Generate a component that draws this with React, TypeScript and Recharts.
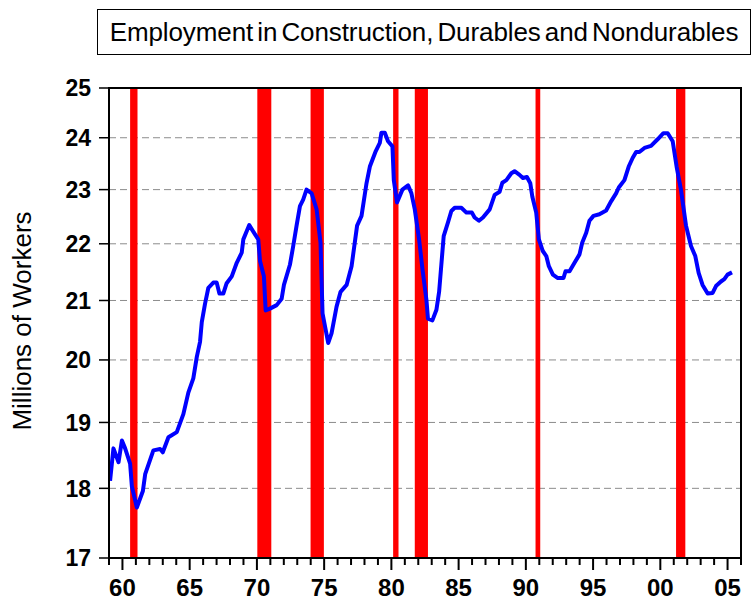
import { LineChart, Line, XAxis, YAxis, CartesianGrid, ReferenceArea } from "recharts";

const FONT = '"Liberation Sans", Arial, Helvetica, sans-serif';

// roughly quarterly
const years = [
  1959.08, 1959.33, 1959.71, 1959.96, 1960.2, 1960.57, 1960.7, 1961.07, 1961.52, 1961.69,
  1962.3, 1962.8, 1963.0, 1963.42, 1964.04, 1964.53, 1964.9, 1965.27, 1965.53, 1965.77,
  1965.9, 1966.14, 1966.39, 1966.76, 1967.01, 1967.21, 1967.5, 1967.75, 1968.13, 1968.5,
  1968.87, 1968.99, 1969.43, 1969.86, 1970.1, 1970.23, 1970.52, 1970.65, 1970.97, 1971.47,
  1971.84, 1972.01, 1972.46, 1972.7, 1972.95, 1973.2, 1973.44, 1973.69, 1974.07, 1974.44,
  1974.73, 1974.88, 1975.3, 1975.55, 1975.92, 1976.22, 1976.67, 1977.04, 1977.45, 1977.78,
  1978.15, 1978.4, 1978.84, 1979.14, 1979.26, 1979.51, 1979.75, 1980.08, 1980.18, 1980.42,
  1980.82, 1981.24, 1981.49, 1981.74, 1982.06, 1982.31, 1982.61, 1982.72, 1983.05, 1983.35,
  1983.55, 1983.89, 1984.21, 1984.46, 1984.71, 1985.2, 1985.58, 1985.99, 1986.19, 1986.51,
  1986.81, 1987.31, 1987.68, 1988.05, 1988.25, 1988.55, 1988.92, 1989.16, 1989.53, 1989.78,
  1990.08, 1990.33, 1990.48, 1990.77, 1990.97, 1991.26, 1991.52, 1991.71, 1992.01, 1992.38,
  1992.8, 1992.95, 1993.25, 1993.62, 1993.99, 1994.19, 1994.49, 1994.73, 1995.03, 1995.47,
  1995.97, 1996.34, 1996.71, 1996.91, 1997.33, 1997.65, 1997.95, 1998.2, 1998.44, 1998.82,
  1999.31, 1999.8, 2000.23, 2000.55, 2000.92, 2001.21, 2001.54, 2001.91, 2002.28, 2002.6,
  2002.85, 2003.14, 2003.52, 2003.89, 2004.14, 2004.51, 2004.76, 2005.0, 2005.33,
];

const workers = [
  18.11, 18.6, 18.39, 18.72, 18.6, 18.37, 18.03, 17.72, 17.96, 18.21,
  18.57, 18.59, 18.54, 18.77, 18.85, 19.13, 19.47, 19.7, 20.05, 20.3,
  20.63, 20.94, 21.22, 21.31, 21.31, 21.12, 21.12, 21.3, 21.42, 21.66,
  21.84, 22.08, 22.34, 22.17, 22.08, 21.69, 21.42, 20.83, 20.86, 20.92,
  21.03, 21.27, 21.63, 21.96, 22.33, 22.69, 22.81, 23.0, 22.93, 22.63,
  22.02, 20.78, 20.28, 20.44, 20.89, 21.15, 21.27, 21.6, 22.33, 22.51,
  23.12, 23.44, 23.74, 23.9, 24.1, 24.1, 23.93, 23.83, 23.18, 22.76,
  23.0, 23.08, 22.93, 22.63, 22.08, 21.55, 21.0, 20.69, 20.66, 20.84,
  21.15, 22.14, 22.39, 22.6, 22.66, 22.66, 22.57, 22.57, 22.48, 22.42,
  22.48, 22.63, 22.9, 22.96, 23.13, 23.18, 23.31, 23.35, 23.28, 23.22,
  23.24, 23.12, 22.87, 22.57, 22.08, 21.87, 21.78, 21.6, 21.45, 21.39,
  21.39, 21.51, 21.51, 21.66, 21.81, 22.02, 22.2, 22.42, 22.51, 22.54,
  22.61, 22.78, 22.93, 23.04, 23.18, 23.44, 23.61, 23.72, 23.72, 23.8,
  23.84, 23.97, 24.09, 24.09, 23.93, 23.44, 22.99, 22.33, 21.96, 21.78,
  21.48, 21.27, 21.12, 21.13, 21.25, 21.33, 21.37, 21.45, 21.49,
];

const recessionStart = [1960.57, 1970.03, 1973.99, 1980.13, 1981.74, 1990.72, 2001.17];
const recessionEnd = [1961.12, 1971.07, 1974.98, 1980.53, 1982.72, 1991.07, 2001.86];

const yTicks = [17, 18, 19, 20, 21, 22, 23, 24, 25];
const yearTicks = [
  1959, 1960, 1961, 1962, 1963, 1964, 1965, 1966, 1967, 1968, 1969, 1970,
  1971, 1972, 1973, 1974, 1975, 1976, 1977, 1978, 1979, 1980, 1981, 1982,
  1983, 1984, 1985, 1986, 1987, 1988, 1989, 1990, 1991, 1992, 1993, 1994,
  1995, 1996, 1997, 1998, 1999, 2000, 2001, 2002, 2003, 2004, 2005, 2006,
];
const majorYears = [1960, 1965, 1970, 1975, 1980, 1985, 1990, 1995, 2000, 2005];
const majorLabels = ["60", "65", "70", "75", "80", "85", "90", "95", "00", "05"];

const data = years.map((year, i) => ({ year, workers: workers[i] }));

function YearTick(props: any) {
  const { x, y, payload } = props;
  const idx = majorYears.indexOf(payload.value);
  const major = idx >= 0;
  return (
    <g>
      <line x1={x} x2={x} y1={y} y2={y + (major ? 12 : 7)} stroke="#000" strokeWidth={2} />
      {major && (
        <text
          x={x}
          y={y + 38}
          textAnchor="middle"
          fill="#000"
          fontSize={24}
          fontWeight={700}
          fontFamily={FONT}
        >
          {majorLabels[idx]}
        </text>
      )}
    </g>
  );
}

function renderYLabel() {
  return (
    <text
      x={22}
      y={321}
      transform="rotate(-90 22 321)"
      textAnchor="middle"
      dominantBaseline="central"
      fill="#000"
      fontSize={26}
      fontFamily={FONT}
    >
      Millions of Workers
    </text>
  );
}

export default function App() {
  return (
    <div style={{ position: "absolute", left: 0, top: 0, width: 752, height: 600, background: "#fff" }}>
      <div
        style={{
          position: "absolute",
          left: 97,
          top: 9,
          width: 654,
          height: 46,
          boxSizing: "border-box",
          border: "1px solid #000",
          display: "flex",
          alignItems: "center",
          justifyContent: "center",
          fontFamily: FONT,
          fontSize: 26,
          wordSpacing: -3,
          letterSpacing: -0.1,
          color: "#000",
          whiteSpace: "nowrap",
        }}
      >
        Employment in Construction, Durables and Nondurables
      </div>
      <LineChart width={752} height={600} data={data} margin={{ top: 88, right: 11, bottom: 0, left: 0 }}>
        <CartesianGrid vertical={false} stroke="#8c8c8c" strokeDasharray="7 4" />
        <XAxis
          dataKey="year"
          type="number"
          domain={[1959, 2006]}
          ticks={yearTicks}
          interval={0}
          allowDataOverflow
          height={42}
          tickSize={0}
          tickMargin={0}
          tickLine={false}
          axisLine={{ stroke: "#000", strokeWidth: 2 }}
          tick={<YearTick />}
        />
        <YAxis
          type="number"
          scale="log"
          domain={[17, 25]}
          ticks={yTicks}
          interval={0}
          allowDataOverflow
          width={109}
          tickSize={10}
          tickMargin={8}
          axisLine={{ stroke: "#000", strokeWidth: 2 }}
          tickLine={{ stroke: "#000", strokeWidth: 1.5 }}
          tick={{ fill: "#000", fontSize: 23, fontWeight: 700, fontFamily: FONT }}
          label={renderYLabel}
        />
        {recessionStart.map((s, i) => (
          <ReferenceArea
            key={s}
            x1={s}
            x2={recessionEnd[i]}
            fill="#ff0000"
            fillOpacity={1}
            stroke="none"
            ifOverflow="visible"
          />
        ))}
        <Line
          dataKey="workers"
          type="linear"
          stroke="#0000ff"
          strokeWidth={4}
          strokeLinejoin="round"
          dot={false}
          isAnimationActive={false}
        />
        <ReferenceArea
          x1={1959}
          x2={2006}
          y1={17}
          y2={25}
          fill="none"
          stroke="#000"
          strokeWidth={2}
          ifOverflow="visible"
        />
      </LineChart>
    </div>
  );
}
